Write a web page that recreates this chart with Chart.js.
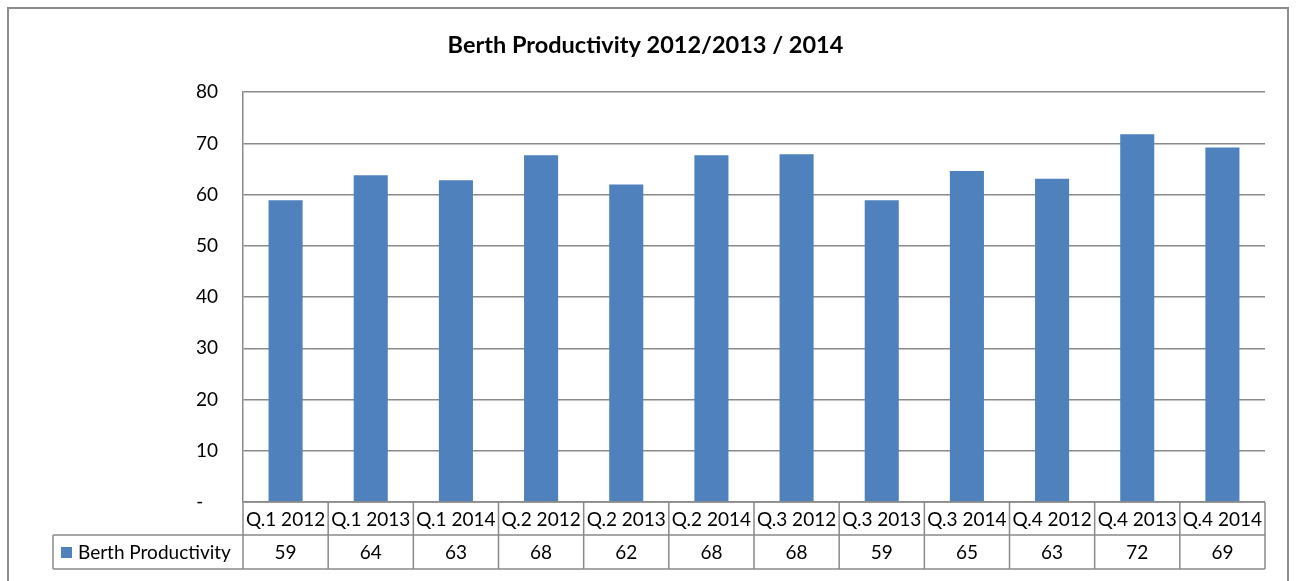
<!DOCTYPE html>
<html>
<head>
<meta charset="utf-8">
<script src="https://cdn.jsdelivr.net/npm/chart.js@4.4.0/dist/chart.umd.min.js"></script>
<style>
html,body{margin:0;padding:0;background:#fff;}
#wrap{position:relative;width:1297px;height:581px;}
</style>
</head>
<body>
<div id="wrap"><canvas id="c"></canvas></div>
<script>
const categories = ["Q.1 2012","Q.1 2013","Q.1 2014","Q.2 2012","Q.2 2013","Q.2 2014","Q.3 2012","Q.3 2013","Q.3 2014","Q.4 2012","Q.4 2013","Q.4 2014"];
const productivity = [58.9, 63.8, 62.8, 67.7, 62.0, 67.7, 67.9, 58.9, 64.6, 63.1, 71.8, 69.2];
const tableLabels = ["59","64","63","68","62","68","68","59","65","63","72","69"];
const seriesName = "Berth Productivity";
const chartTitle = "Berth Productivity 2012/2013 / 2014";
const yTicks = [0,10,20,30,40,50,60,70,80];
const zeroLabel = "-   ";

const FONT = "Lato, 'Open Sans', sans-serif";
const BLUE = "#4F81BD";
const GRID = "#8a8a8a";

const tablePlugin = {
  id: 'dataTable',
  beforeDraw(chart){
    const ctx = chart.ctx;
    ctx.save();
    ctx.fillStyle = '#fff';
    ctx.fillRect(0,0,chart.width,chart.height);
    ctx.strokeStyle = '#8c8c8c';
    ctx.lineWidth = 2;
    ctx.strokeRect(8,8,1280,600);
    ctx.restore();
  },
  afterDraw(chart){
    const ctx = chart.ctx;
    const a = chart.chartArea;
    const x = chart.scales.x;
    const n = categories.length;
    const w = (a.right - a.left)/n;
    const r1t = a.bottom, r1b = a.bottom + 33, r2b = r1b + 34;
    const legLeft = 53;
    ctx.save();
    ctx.strokeStyle = GRID;
    ctx.lineWidth = 1.5;
    ctx.beginPath();
    ctx.moveTo(a.left, r1t); ctx.lineTo(a.right, r1t);
    ctx.moveTo(legLeft, r1b); ctx.lineTo(a.right, r1b);
    ctx.moveTo(legLeft, r2b); ctx.lineTo(a.right, r2b);
    ctx.moveTo(legLeft, r1b); ctx.lineTo(legLeft, r2b);
    for(let i=0;i<=n;i++){
      const xx = a.left + i*w;
      ctx.moveTo(xx, r1t); ctx.lineTo(xx, r2b);
    }
    ctx.stroke();
    ctx.fillStyle = '#000';
    ctx.font = "19px " + FONT;
    ctx.textAlign = 'center';
    ctx.textBaseline = 'middle';
    categories.forEach((c,i)=>{
      const cx = x.getPixelForValue(i);
      ctx.fillText(c, cx, (r1t+r1b)/2+1);
      ctx.fillText(tableLabels[i], cx, (r1b+r2b)/2+1);
    });
    ctx.fillStyle = BLUE;
    ctx.fillRect(61, (r1b+r2b)/2-5, 11, 11);
    ctx.fillStyle = '#000';
    ctx.textAlign = 'left';
    ctx.fillText(seriesName, 78, (r1b+r2b)/2+1);
    ctx.restore();
  }
};

new Chart(document.getElementById('c'), {
  type: 'bar',
  data: {
    labels: categories,
    datasets: [{
      label: seriesName,
      data: productivity,
      backgroundColor: BLUE,
      borderWidth: 0,
      categoryPercentage: 1,
      barPercentage: 0.40
    }]
  },
  options: {
    responsive: true,
    maintainAspectRatio: false,
    animation: false,
    layout: { padding: { left: 26, right: 32, top: 18, bottom: 79 } },
    plugins: {
      legend: { display: false },
      tooltip: { enabled: false },
      title: {
        display: true,
        text: chartTitle,
        color: '#000',
        font: { family: FONT, size: 23.5, weight: 'bold', lineHeight: 1.2 },
        padding: { top: 13, bottom: 33 }
      }
    },
    scales: {
      x: { display: false },
      y: {
        min: 0, max: 80,
        afterBuildTicks(s){ s.ticks = yTicks.map(v=>({value:v})); },
        afterFit(s){ s.width = 217; },
        grid: { color: GRID, lineWidth: 1.5, drawTicks: false },
        border: { display: true, color: GRID, width: 1.5 },
        ticks: {
          padding: 25,
          color: '#000',
          font: { family: FONT, size: 19 },
          callback: v => v === 0 ? zeroLabel : String(v)
        }
      }
    }
  },
  plugins: [tablePlugin]
});
</script>
</body>
</html>
